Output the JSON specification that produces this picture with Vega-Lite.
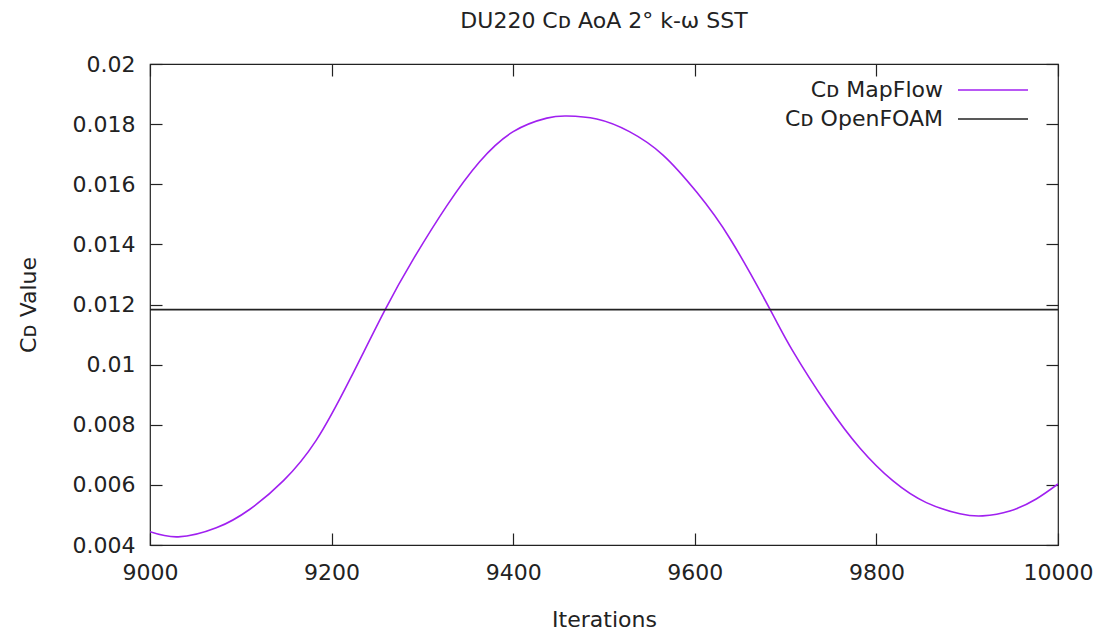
{
  "$schema": "https://vega.github.io/schema/vega-lite/v6.json",
  "width": 908,
  "height": 481,
  "autosize": "none",
  "padding": {"left": 150, "top": 64, "right": 47, "bottom": 89},
  "background": "white",
  "config": {
    "font": "DejaVu Sans",
    "view": {"stroke": "#222", "strokeWidth": 1.2},
    "axis": {
      "grid": false,
      "domain": false,
      "ticks": true,
      "tickSize": -12,
      "tickColor": "#222",
      "tickWidth": 1.2,
      "labelFlush": false,
      "labelOverlap": false,
      "labelFont": "DejaVu Sans",
      "labelFontSize": 22,
      "labelColor": "#222",
      "titleFont": "DejaVu Sans",
      "titleFontSize": 22,
      "titleFontWeight": "normal",
      "titleColor": "#222"
    }
  },
  "title": {
    "text": "DU220 Cᴅ AoA 2° k-ω SST",
    "font": "DejaVu Sans",
    "fontSize": 22,
    "fontWeight": "normal",
    "color": "#222",
    "offset": 20
  },
  "datasets": {
    "mapflow": [
      {"iteration": 9000, "cd": 0.00444},
      {"iteration": 9031, "cd": 0.00427},
      {"iteration": 9073, "cd": 0.00457},
      {"iteration": 9110, "cd": 0.00519},
      {"iteration": 9147, "cd": 0.00614},
      {"iteration": 9183, "cd": 0.00748},
      {"iteration": 9220, "cd": 0.00950},
      {"iteration": 9259, "cd": 0.01183},
      {"iteration": 9290, "cd": 0.01351},
      {"iteration": 9327, "cd": 0.01529},
      {"iteration": 9363, "cd": 0.01675},
      {"iteration": 9400, "cd": 0.01775},
      {"iteration": 9437, "cd": 0.01820},
      {"iteration": 9459, "cd": 0.01827},
      {"iteration": 9492, "cd": 0.01817},
      {"iteration": 9528, "cd": 0.01775},
      {"iteration": 9565, "cd": 0.01697},
      {"iteration": 9602, "cd": 0.01574},
      {"iteration": 9639, "cd": 0.01418},
      {"iteration": 9683, "cd": 0.01183},
      {"iteration": 9708, "cd": 0.01045},
      {"iteration": 9745, "cd": 0.00870},
      {"iteration": 9782, "cd": 0.00722},
      {"iteration": 9818, "cd": 0.00614},
      {"iteration": 9855, "cd": 0.00541},
      {"iteration": 9892, "cd": 0.00504},
      {"iteration": 9917, "cd": 0.00497},
      {"iteration": 9947, "cd": 0.00513},
      {"iteration": 9976, "cd": 0.00553},
      {"iteration": 10000, "cd": 0.00603}
    ],
    "openfoam": [
      {"iteration": 9000, "cd": 0.01183},
      {"iteration": 10000, "cd": 0.01183}
    ]
  },
  "resolve": {"axis": {"x": "independent", "y": "independent"}},
  "layer": [
    {
      "data": {"name": "mapflow"},
      "transform": [{"calculate": "'Cᴅ MapFlow'", "as": "series"}],
      "mark": {"type": "line", "interpolate": "natural", "strokeWidth": 1.6, "clip": true},
      "encoding": {
        "x": {
          "field": "iteration", "type": "quantitative",
          "scale": {"domain": [9000, 10000], "nice": false, "zero": false},
          "axis": {"values": [9000, 9200, 9400, 9600, 9800, 10000], "format": "d", "title": "Iterations", "labelPadding": 29, "titlePadding": 26}
        },
        "y": {
          "field": "cd", "type": "quantitative",
          "scale": {"domain": [0.004, 0.02], "nice": false, "zero": false},
          "axis": {"values": [0.004, 0.006, 0.008, 0.01, 0.012, 0.014, 0.016, 0.018, 0.02], "format": ".3~f", "title": "Cᴅ Value", "labelPadding": 27, "titlePadding": 32}
        },
        "color": {
          "field": "series", "type": "nominal",
          "scale": {"domain": ["Cᴅ MapFlow", "Cᴅ OpenFOAM"], "range": ["#a020f0", "#222222"]},
          "legend": {
            "title": null,
            "orient": "none",
            "legendX": 832,
            "legendY": 15,
            "padding": 0,
            "symbolType": "M-7,0H7",
            "symbolSize": 100,
            "symbolStrokeWidth": 1.6,
            "labelAlign": "right",
            "labelOffset": -61,
            "labelFont": "DejaVu Sans",
            "labelFontSize": 22,
            "labelColor": "#222",
            "rowPadding": 7,
            "labelLimit": 400
          }
        }
      }
    },
    {
      "data": {"name": "openfoam"},
      "transform": [{"calculate": "'Cᴅ OpenFOAM'", "as": "series"}],
      "mark": {"type": "line", "strokeWidth": 1.6},
      "encoding": {
        "x": {
          "field": "iteration", "type": "quantitative",
          "axis": {"orient": "top", "values": [9000, 9200, 9400, 9600, 9800, 10000], "labels": false, "title": null}
        },
        "y": {
          "field": "cd", "type": "quantitative",
          "axis": {"orient": "right", "values": [0.004, 0.006, 0.008, 0.01, 0.012, 0.014, 0.016, 0.018, 0.02], "labels": false, "title": null}
        },
        "color": {"field": "series", "type": "nominal"}
      }
    }
  ]
}
